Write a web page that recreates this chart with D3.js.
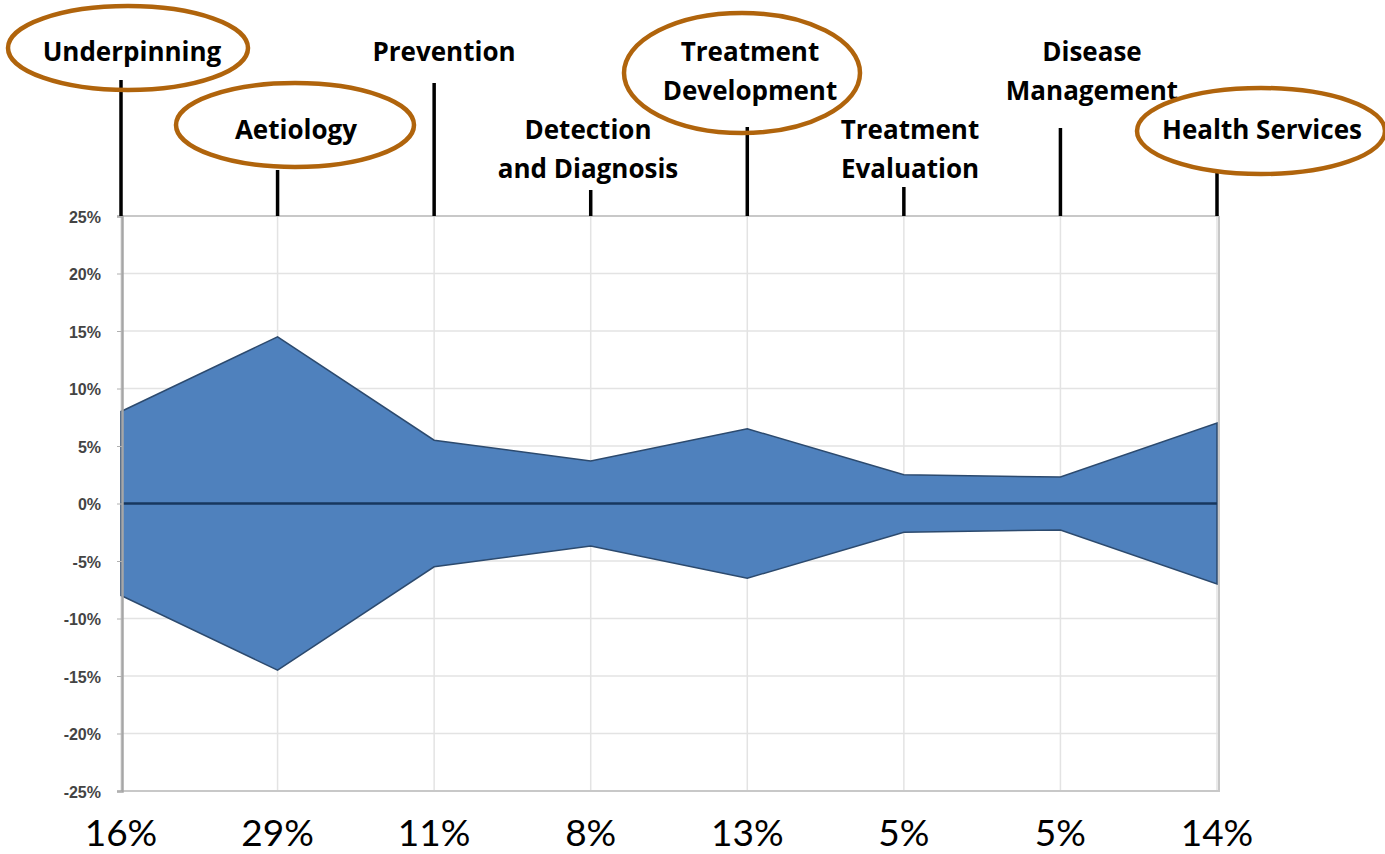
<!DOCTYPE html>
<html><head><meta charset="utf-8">
<script src="https://cdn.jsdelivr.net/npm/d3@7"></script>
<style>body{margin:0;background:#fff}svg{display:block}</style>
</head><body>
<script>
const categories = ["Underpinning","Aetiology","Prevention","Detection and Diagnosis","Treatment Development","Treatment Evaluation","Disease Management","Health Services"];
const halfWidth = [8.0, 14.5, 5.5, 3.7, 6.5, 2.5, 2.3, 7.0];
const shareLabels = ["16%","29%","11%","8%","13%","5%","5%","14%"];
const yTicks = [25,20,15,10,5,0,-5,-10,-15,-20,-25];
const labelLines = [["Underpinning"],["Aetiology"],["Prevention"],["Detection","and Diagnosis"],["Treatment","Development"],["Treatment","Evaluation"],["Disease","Management"],["Health Services"]];
const highlighted = ["Underpinning","Aetiology","Treatment Development","Health Services"];

const W=1385,H=854;
const svg=d3.select("body").append("svg").attr("width",W).attr("height",H);
const x=d3.scalePoint().domain(categories).range([121,1217]);
const y=d3.scaleLinear().domain([-25,25]).range([791,216]);

// gridlines
svg.append("g").selectAll("line.h").data(yTicks).join("line")
  .attr("x1",121).attr("x2",1218).attr("y1",d=>y(d)).attr("y2",d=>y(d))
  .attr("stroke","#e3e3e3").attr("stroke-width",1.5);
svg.append("g").selectAll("line.v").data(categories).join("line")
  .attr("x1",d=>x(d)).attr("x2",d=>x(d)).attr("y1",216).attr("y2",791)
  .attr("stroke","#e3e3e3").attr("stroke-width",1.5);
// frame
svg.append("line").attr("x1",1219).attr("x2",1219).attr("y1",216).attr("y2",792).attr("stroke","#c8c8c8").attr("stroke-width",2);
svg.append("line").attr("x1",121).attr("x2",1219).attr("y1",216).attr("y2",216).attr("stroke","#c8c8c8").attr("stroke-width",2);
svg.append("line").attr("x1",121).attr("x2",1219).attr("y1",791).attr("y2",791).attr("stroke","#c8c8c8").attr("stroke-width",2);

// area
const area=d3.area().x((d,i)=>x(categories[i])).y0(d=>y(-d)).y1(d=>y(d));
svg.append("path").datum(halfWidth).attr("d",area).attr("fill","#4f81bd").attr("stroke","#2c4a6e").attr("stroke-width",1.5);
svg.append("line").attr("x1",121).attr("x2",1217).attr("y1",y(0)).attr("y2",y(0)).attr("stroke","#17375e").attr("stroke-width",2.5);

// y axis
const yAxis=d3.axisLeft(y).tickValues(yTicks).tickFormat(d=>d+"%").tickSize(5).tickPadding(16);
const ga=svg.append("g").attr("transform","translate(122,0)").call(yAxis);
ga.select(".domain").attr("stroke","#a6a6a6").attr("stroke-width",2.5);
ga.selectAll(".tick line").attr("stroke","#b0b0b0");
ga.selectAll("text").attr("font-family","Liberation Sans, Arial").attr("font-weight","bold").attr("font-size",16).attr("fill","#444").attr("dy","0.4em");

// bottom share labels
svg.append("g").selectAll("text").data(shareLabels).join("text")
  .attr("x",(d,i)=>x(categories[i])).attr("y",846).attr("text-anchor","middle")
  .attr("font-family","Lato, Open Sans, sans-serif").attr("font-size",37).attr("fill","#000").text(d=>d);

// top labels
const labelPos=[{cx:132,ty:52,line:[80]},{cx:296,ty:130,line:[170]},{cx:444,ty:52,line:[83]},{cx:588,ty:130,line:[190]},{cx:750,ty:52,line:[127]},{cx:910,ty:130,line:[187]},{cx:1092,ty:52,line:[128]},{cx:1262,ty:130,line:[173]}];
const ell={"Underpinning":[128,48,120,42],"Aetiology":[295,125,119,42],"Treatment Development":[742,73,118,60],"Health Services":[1261,131,124,43]};
categories.forEach((c,i)=>{
  const p=labelPos[i];
  svg.append("line").attr("x1",x(c)).attr("x2",x(c)).attr("y1",p.line[0]).attr("y2",216).attr("stroke","#000").attr("stroke-width",3.5);
  const t=svg.append("text").attr("text-anchor","middle").attr("font-family","Open Sans, sans-serif").attr("font-weight","bold").attr("font-size",26).attr("fill","#000");
  labelLines[i].forEach((l,j)=>t.append("tspan").attr("x",p.cx).attr("y",p.ty+9+j*39).text(l));
  if(highlighted.includes(c)){const e=ell[c];
    svg.append("ellipse").attr("cx",e[0]).attr("cy",e[1]).attr("rx",e[2]).attr("ry",e[3]).attr("fill","none").attr("stroke","#b0640c").attr("stroke-width",4.5);}
});
</script>
</body></html>
